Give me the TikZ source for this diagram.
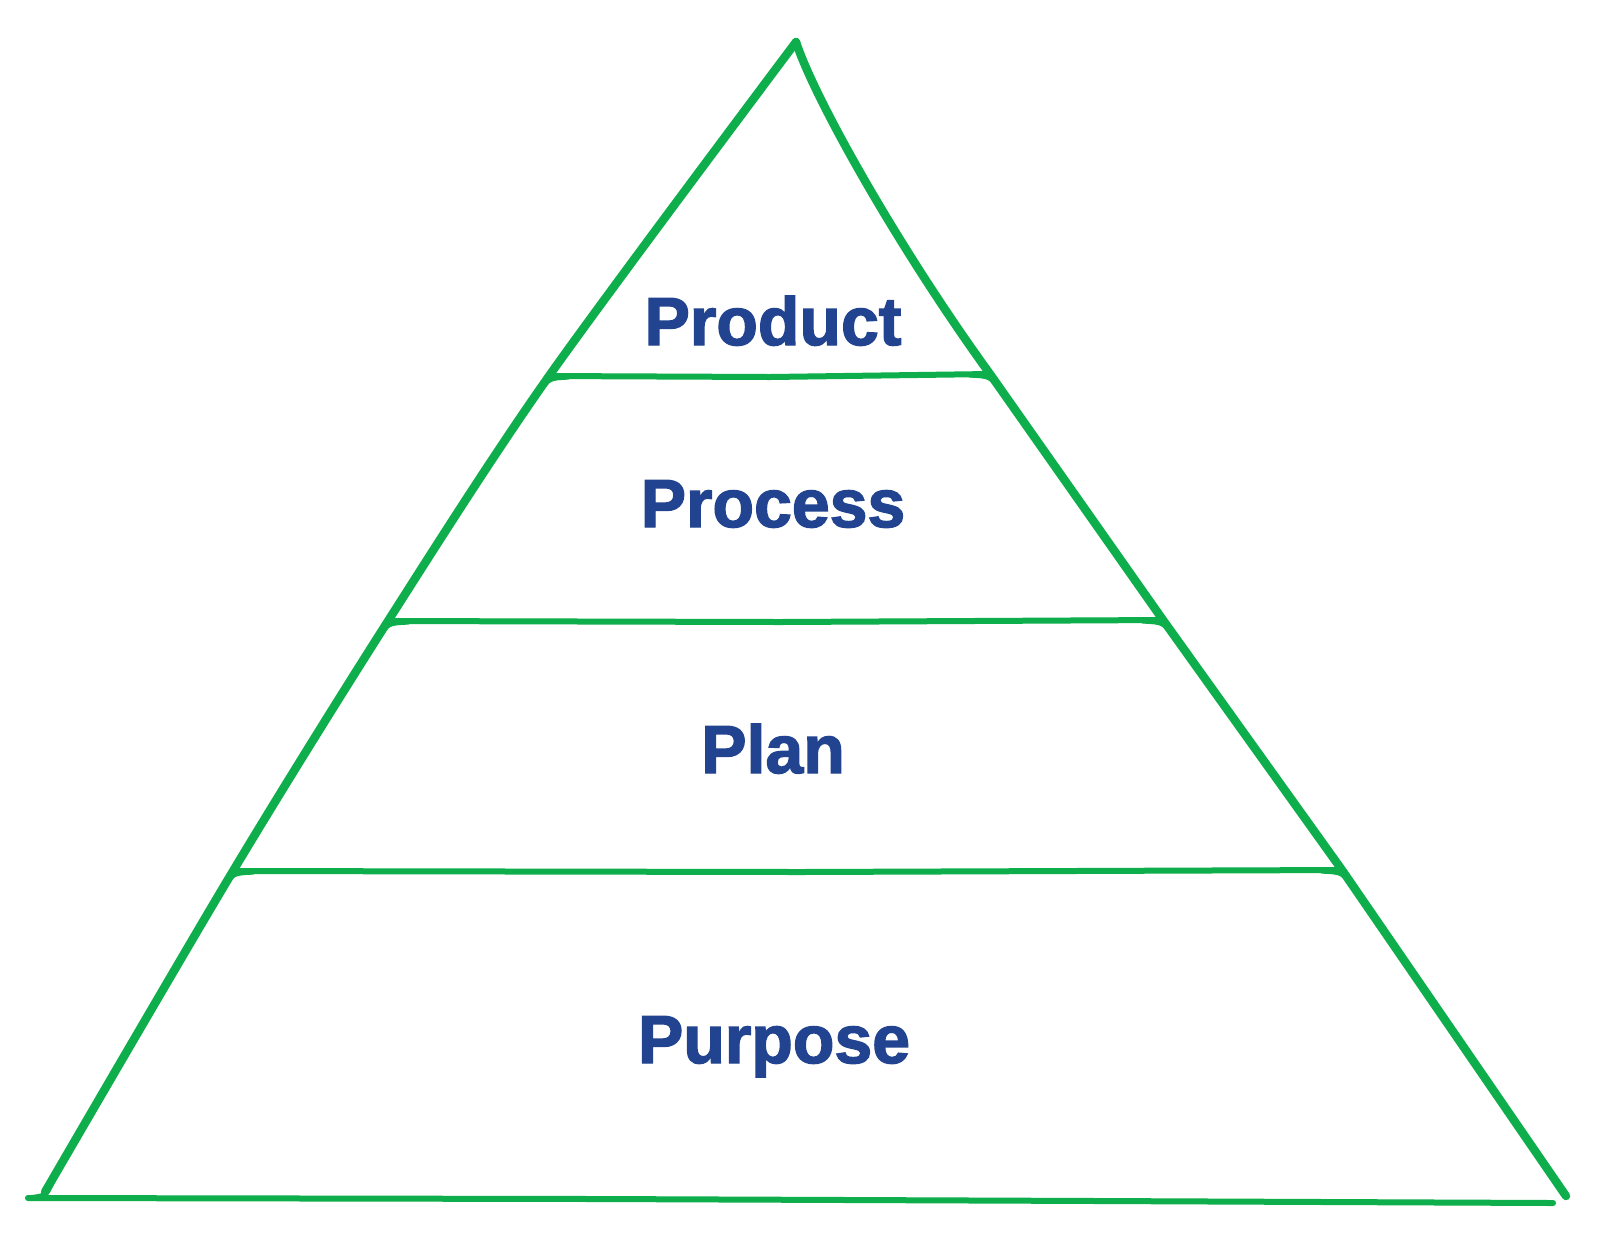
\documentclass[tikz,border=0pt]{standalone}
\usepackage{fontspec}
\newfontfamily\lblfont{Liberation Sans}[BoldFeatures={FakeBold=2}]
\definecolor{pgreen}{RGB}{13,174,75}
\definecolor{pblue}{RGB}{34,67,143}
\begin{document}
\begin{tikzpicture}[x=0.5pt,y=-0.5pt,
  side/.style={draw=pgreen,line width=4.2pt,line cap=round,line join=round},
  level/.style={draw=pgreen,line width=3pt,line cap=round},
  fillet/.style={draw=pgreen,line width=2.6pt,line cap=round},
  lbl/.style={text=pblue,font=\lblfont\bfseries\fontsize{34}{34}\selectfont,anchor=base,inner sep=0pt}]
\useasboundingbox[fill=white] (0,0) rectangle (1600,1239);
% key points
\coordinate (apex) at (796,42);
\coordinate (l1) at (549,376);
\coordinate (l2) at (388,621);
\coordinate (l3) at (233,871);
\coordinate (l4) at (45,1192);
\coordinate (r1) at (990,374);
\coordinate (r2) at (1163,620);
\coordinate (r3) at (1342,870);
\coordinate (r4) at (1566,1196);
\coordinate (bl) at (28,1198);
\coordinate (br) at (1553,1203);
% sides
\draw[side] plot[smooth,tension=0.5] coordinates {(apex) (l1) (l2) (l3) (l4)};
\draw[side] (apex) .. controls (815,100) and (900,250) .. (r1) -- (r2) -- (r3) -- (r4);
% level lines
\draw[level] (l1) -- (770,377) -- (r1);
\draw[level] (l2) -- (780,622) -- (r2);
\draw[level] (l3) -- (800,872) -- (r3);
\draw[level] (bl) -- (600,1199) -- (1100,1201) -- (br);
% fillets under the level lines
\draw[fillet] (539,392) .. controls (549,378) .. (568,377);
\draw[fillet] (1001,390) .. controls (990,376) .. (970,375);
\draw[fillet] (378,637) .. controls (388,623) .. (408,622);
\draw[fillet] (1174,636) .. controls (1163,622) .. (1143,621);
\draw[fillet] (224,887) .. controls (233,873) .. (253,872);
\draw[fillet] (1353,886) .. controls (1342,872) .. (1322,871);
\draw[fillet] (52,1182) .. controls (46,1196) .. (bl);
% labels
\node[lbl] (product) at (773,345) {Product};
\node[lbl] (process) at (773,527) {Process};
\node[lbl] (plan) at (773,773) {Plan};
\node[lbl] (purpose) at (774,1063) {Purpose};
\end{tikzpicture}
\end{document}
